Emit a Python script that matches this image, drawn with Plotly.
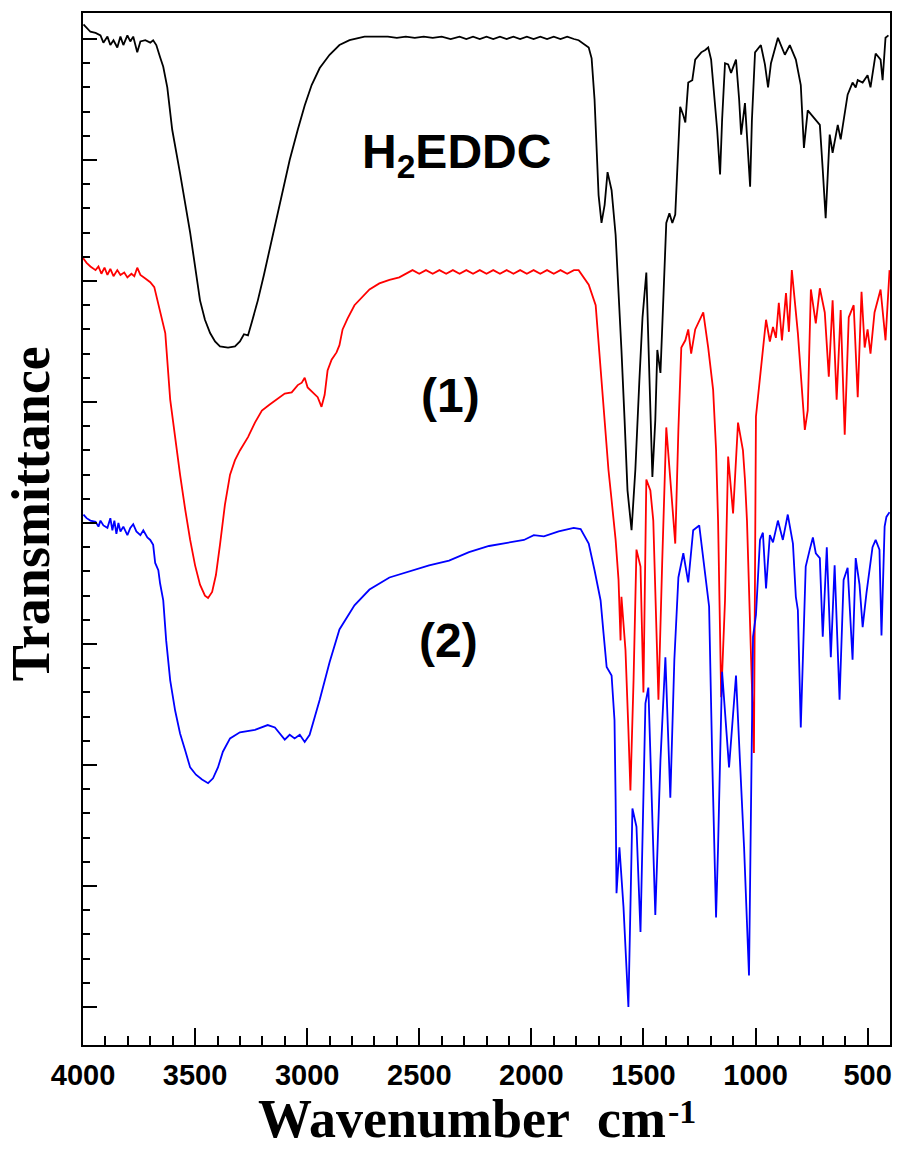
import plotly.graph_objects as go

# ---------------- data ----------------
# Wavenumber (cm-1) and transmittance (arbitrary units, offset spectra)
wn_h2eddc = [3998, 3984, 3967, 3944, 3922, 3909, 3891, 3878, 3864, 3847, 3833, 3820, 3802, 3789,
             3776, 3758, 3744, 3722, 3700, 3687, 3673, 3656, 3642, 3624, 3602, 3567, 3522, 3478,
             3456, 3433, 3411, 3389, 3353, 3322, 3300, 3282, 3264, 3247, 3220, 3193, 3167, 3140,
             3109, 3078, 3042, 3011, 2980, 2944, 2900, 2856, 2811, 2744, 2678,
             2640, 2600, 2560, 2520, 2480, 2440, 2400, 2360, 2320, 2290, 2260, 2230, 2200, 2170,
             2140, 2110, 2080, 2050, 2020, 1990, 1960, 1930, 1900, 1870, 1840, 1810,
             1789, 1744, 1731, 1718, 1709, 1700, 1687, 1673, 1660, 1642, 1624, 1611, 1598, 1584,
             1571, 1553, 1536, 1518, 1504, 1487, 1473, 1460, 1447, 1438, 1424, 1411, 1398, 1384,
             1371, 1358, 1344, 1336, 1322, 1313, 1300, 1282, 1269, 1242, 1224, 1211, 1198, 1189,
             1171, 1158, 1149, 1136, 1122, 1109, 1087, 1073, 1064, 1047, 1033, 1024, 1016, 1002,
             976, 958, 944, 931, 900, 882, 869, 847, 820, 798, 784, 767, 744, 713, 700, 687, 669,
             656, 633, 620, 589, 567, 553, 544, 522, 500, 487, 464, 442, 433, 420, 407]
tr_h2eddc = [81.2, 80.9, 80.6, 80.5, 80.3, 79.7, 80.2, 79.5, 79.9, 79.3, 80.2, 79.5, 80.3, 79.8,
             80.2, 78.9, 79.8, 79.9, 79.7, 79.9, 79.5, 78.5, 77.7, 76.0, 72.5, 68.9, 64.0, 58.4,
             56.8, 55.7, 55.0, 54.6, 54.5, 54.6, 55.0, 55.6, 55.5, 56.6, 58.4, 60.5, 62.7, 65.0,
             67.5, 70.0, 72.5, 74.5, 76.2, 77.6, 78.7, 79.5, 79.9, 80.2, 80.2,
             80.2, 80.1, 80.2, 80.1, 80.2, 80.1, 80.2, 80.0, 80.2, 80.0, 80.2, 80.0, 80.2, 80.0,
             80.2, 80.0, 80.2, 80.0, 80.2, 80.0, 80.2, 80.0, 80.2, 80.0, 80.2, 80.0,
             79.9, 79.3, 78.4, 75.0, 70.8, 67.1, 64.8, 66.3, 69.0, 67.5, 63.8, 59.3, 54.3, 48.5,
             42.7, 39.4, 44.4, 51.8, 57.0, 60.7, 51.8, 43.8, 48.5, 54.3, 52.4, 58.4, 64.8, 65.6,
             64.8, 65.5, 71.7, 74.4, 73.7, 73.1, 76.4, 76.6, 78.3, 78.9, 79.1, 79.3, 78.3, 76.4,
             72.5, 68.8, 73.3, 78.0, 77.9, 77.2, 78.3, 75.0, 72.1, 74.7, 70.8, 67.8, 73.3, 78.9,
             79.5, 77.9, 76.0, 78.0, 80.1, 79.3, 78.7, 79.5, 78.3, 76.2, 71.0, 74.1, 73.6, 72.9,
             69.2, 65.2, 72.1, 70.6, 72.9, 71.7, 75.4, 76.4, 76.0, 76.6, 76.4, 77.0, 76.0, 78.8,
             78.3, 76.6, 80.1, 80.3]

wn_complex1 = [4000, 3984, 3967, 3944, 3931, 3918, 3904, 3891, 3878, 3864, 3847, 3833, 3816, 3802,
               3784, 3771, 3758, 3744, 3722, 3700, 3682, 3656, 3633, 3611, 3589, 3567, 3544, 3522,
               3500, 3478, 3456, 3442, 3424, 3407, 3389, 3367, 3344, 3322, 3300, 3264, 3233, 3202,
               3167, 3131, 3100, 3069, 3042, 3024, 3011, 2998, 2976, 2953, 2936, 2922, 2909, 2891,
               2869, 2856, 2842, 2820, 2789, 2758, 2722, 2678, 2633, 2589,
               2560, 2530, 2500, 2470, 2440, 2410, 2380, 2350, 2320, 2290, 2260, 2230, 2200, 2170,
               2140, 2110, 2080, 2050, 2020, 1990, 1960, 1930, 1900, 1870, 1840, 1810,
               1789, 1744, 1713, 1700, 1682, 1669, 1656, 1642, 1624, 1611, 1602, 1598, 1580, 1567,
               1558, 1544, 1531, 1513, 1500, 1487, 1469, 1456, 1447, 1433, 1416, 1398, 1380, 1358,
               1344, 1331, 1313, 1300, 1287, 1269, 1233, 1211, 1189, 1176, 1167, 1153, 1136, 1122,
               1100, 1078, 1056, 1047, 1038, 1020, 1007, 998, 980, 953, 936, 922, 909, 896, 882,
               864, 851, 838, 811, 798, 780, 767, 753, 731, 713, 691, 673, 656, 638, 620, 602, 584,
               562, 544, 527, 513, 500, 487, 469, 442, 420, 402]
tr_complex1 = [61.9, 61.5, 61.2, 60.9, 61.2, 60.6, 61.1, 60.5, 61.0, 60.4, 60.9, 60.5, 60.7, 60.3,
               60.6, 60.4, 61.1, 60.5, 60.2, 59.9, 59.5, 57.6, 55.7, 50.2, 46.9, 44.0, 41.1, 38.6,
               36.5, 34.9, 34.0, 33.8, 34.3, 35.7, 38.2, 41.5, 44.0, 45.2, 46.0, 47.1, 48.3, 49.3,
               49.8, 50.3, 50.7, 50.8, 51.4, 51.6, 52.0, 51.2, 50.8, 50.4, 49.6, 50.6, 52.6, 53.5,
               54.1, 54.7, 56.0, 56.9, 58.0, 58.6, 59.3, 59.8, 60.1, 60.3,
               60.6, 60.9, 60.6, 60.9, 60.6, 60.9, 60.6, 60.9, 60.6, 60.9, 60.6, 60.9, 60.6, 60.9,
               60.6, 60.9, 60.6, 60.9, 60.6, 60.9, 60.6, 60.9, 60.6, 60.9, 60.6, 60.9,
               60.9, 59.7, 58.0, 54.9, 50.2, 46.9, 44.4, 41.9, 38.6, 35.3, 30.3, 33.9, 29.5, 22.9,
               17.9, 27.0, 37.8, 36.4, 26.0, 43.6, 42.7, 40.2, 33.6, 25.4, 36.9, 47.9, 43.6, 38.3,
               47.7, 54.5, 55.1, 56.0, 54.0, 56.0, 57.4, 54.5, 51.0, 46.1, 40.2, 25.6, 33.6, 45.5,
               40.8, 48.3, 46.0, 43.6, 40.2, 29.5, 21.0, 48.8, 52.1, 56.8, 55.0, 56.2, 55.3, 58.2,
               55.1, 59.0, 55.8, 60.9, 55.7, 52.4, 47.7, 49.3, 59.3, 56.5, 59.4, 57.4, 52.1, 58.4,
               50.2, 57.6, 47.3, 57.0, 58.0, 50.4, 59.1, 54.5, 56.0, 54.0, 57.4, 59.3, 55.1, 60.9]

wn_complex2 = [3998, 3984, 3967, 3944, 3931, 3922, 3909, 3891, 3878, 3869, 3860, 3851, 3842, 3833,
               3820, 3802, 3789, 3776, 3762, 3744, 3731, 3713, 3700, 3687, 3678, 3664, 3656, 3642,
               3629, 3611, 3589, 3567, 3544, 3522, 3496, 3469, 3442, 3420, 3398, 3376, 3344, 3300,
               3233, 3176, 3144, 3122, 3100, 3078, 3056, 3033, 3011, 2989, 2971, 2944, 2900, 2856,
               2789, 2722, 2633, 2544, 2456, 2367, 2278, 2189, 2100, 2033, 1989, 1944, 1878, 1811,
               1780, 1744, 1718, 1691, 1678, 1664, 1642, 1629, 1624, 1620, 1607, 1589, 1567, 1549,
               1531, 1513, 1491, 1478, 1460, 1447, 1424, 1402, 1380, 1362, 1344, 1322, 1300, 1278,
               1251, 1229, 1207, 1193, 1176, 1167, 1149, 1118, 1087, 1069, 1051, 1029, 1011, 998,
               980, 967, 953, 936, 922, 900, 878, 856, 833, 820, 811, 798, 776, 758, 744, 731, 713,
               700, 682, 664, 647, 625, 607, 589, 567, 553, 536, 522, 505, 478, 464, 447, 438, 424,
               416, 402]
tr_complex2 = [40.7, 40.4, 40.2, 40.1, 39.7, 40.2, 39.8, 39.6, 40.4, 39.4, 40.2, 39.1, 40.0, 39.3,
               39.7, 39.0, 39.6, 39.9, 39.3, 39.0, 39.4, 38.8, 38.6, 38.2, 36.7, 36.1, 35.0, 33.6,
               30.3, 27.0, 24.5, 22.6, 21.2, 19.8, 19.2, 18.8, 18.5, 18.9, 19.8, 21.1, 22.2, 22.7,
               22.9, 23.3, 23.1, 22.6, 22.1, 22.5, 22.2, 22.5, 21.9, 22.5, 23.6, 25.4, 28.5, 31.2,
               33.2, 34.5, 35.5, 36.0, 36.5, 36.9, 37.6, 38.1, 38.4, 38.6, 39.0, 38.9, 39.3, 39.6,
               39.5, 38.3, 36.1, 33.6, 30.9, 28.1, 27.4, 23.7, 17.1, 9.4, 13.2, 8.3, 0.0, 16.4,
               14.9, 6.2, 25.1, 26.4, 15.5, 7.6, 20.4, 28.9, 17.3, 28.7, 35.5, 37.5, 35.1, 39.4,
               39.8, 36.4, 33.1, 20.4, 7.4, 13.2, 27.7, 19.8, 27.4, 20.2, 13.2, 2.6, 30.6, 32.4,
               38.6, 39.2, 34.6, 39.0, 38.4, 40.2, 38.6, 40.7, 38.3, 33.9, 32.8, 23.1, 36.4, 37.8,
               38.8, 37.5, 37.1, 30.6, 38.0, 28.9, 36.5, 25.4, 35.3, 36.3, 28.7, 37.1, 34.9, 31.4,
               34.2, 38.0, 38.6, 37.8, 30.7, 39.7, 40.5, 40.9]

x_tick_vals = [4000, 3500, 3000, 2500, 2000, 1500, 1000, 500]
x_tick_text = ["4000", "3500", "3000", "2500", "2000", "1500", "1000", "500"]
x_minor_vals = [w for w in range(3900, 399, -100) if w % 500 != 0]
y_major_vals = [0, 10, 20, 30, 40, 50, 60, 70, 80]
y_minor_vals = [v for v in range(2, 82, 2) if v % 10 != 0]

series_names = ["H2EDDC", "(1)", "(2)"]
series_colors = ["#000000", "#ff0000", "#0000ff"]

# ---------------- figure ----------------
W, H = 901, 1150
L, R, T, B = 83, 9, 13, 105
pw, ph = W - L - R, H - T - B


def px(xp):
    return (xp - L) / pw


def py(yp):
    return (H - B - yp) / ph


fig = go.Figure()
for wn, tr, name, col in zip([wn_h2eddc, wn_complex1, wn_complex2],
                             [tr_h2eddc, tr_complex1, tr_complex2],
                             series_names, series_colors):
    fig.add_trace(go.Scatter(x=wn, y=tr, mode="lines", name=name,
                             line=dict(color=col, width=1.8), showlegend=False))

fig.update_layout(
    width=W, height=H,
    margin=dict(l=L, r=R, t=T, b=B),
    plot_bgcolor="white", paper_bgcolor="white",
    showlegend=False,
)

fig.update_xaxes(
    range=[4000, 400],
    tickmode="array", tickvals=x_tick_vals, ticktext=x_tick_text,
    ticks="inside", ticklen=17, tickwidth=2, tickcolor="black",
    showline=True, linecolor="black", linewidth=2, mirror=True,
    showgrid=False, zeroline=False,
    ticklabelstandoff=3,
    tickfont=dict(family="Liberation Sans", size=29, color="black", weight="bold"),
    minor=dict(tickmode="array", tickvals=x_minor_vals, ticks="inside", ticklen=9,
               tickwidth=2, tickcolor="black", showgrid=False),
)
fig.update_yaxes(
    range=[-3.14, 82.15],
    tickmode="array", tickvals=y_major_vals, showticklabels=False,
    ticks="inside", ticklen=14, tickwidth=2, tickcolor="black",
    showline=True, linecolor="black", linewidth=2, mirror=True,
    showgrid=False, zeroline=False,
    minor=dict(tickmode="array", tickvals=y_minor_vals, ticks="inside", ticklen=7,
               tickwidth=2, tickcolor="black", showgrid=False),
)

serif = dict(family="Liberation Serif", size=54, color="black", weight="bold")
sans = dict(family="Liberation Sans", size=48, color="black", weight="bold")

fig.add_annotation(text="Wavenumber&nbsp; cm", xref="paper", yref="paper",
                   x=px(463), y=py(1119), showarrow=False, font=serif,
                   xanchor="center", yanchor="middle")
fig.add_annotation(text="-1", xref="paper", yref="paper",
                   x=px(683), y=py(1111), showarrow=False, font=dict(serif, size=34),
                   xanchor="center", yanchor="middle")
fig.add_annotation(text="Transmittance", xref="paper", yref="paper",
                   x=px(31), y=py(514), showarrow=False, font=serif,
                   textangle=-90, xanchor="center", yanchor="middle")
fig.add_annotation(text="H<sub>2</sub>EDDC", xref="paper", yref="paper",
                   x=px(457), y=py(155), showarrow=False, font=sans,
                   xanchor="center", yanchor="middle")
fig.add_annotation(text="(1)", xref="paper", yref="paper",
                   x=px(451), y=py(395), showarrow=False, font=sans,
                   xanchor="center", yanchor="middle")
fig.add_annotation(text="(2)", xref="paper", yref="paper",
                   x=px(449), y=py(640), showarrow=False, font=sans,
                   xanchor="center", yanchor="middle")

fig.write_html("out.html")
